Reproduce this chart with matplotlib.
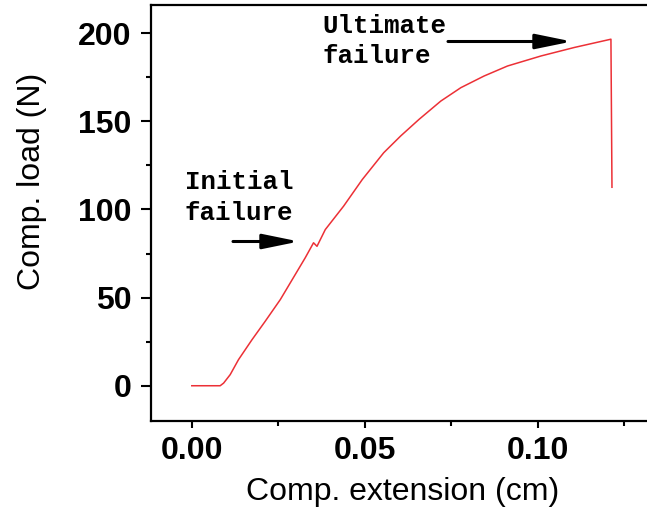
import matplotlib
matplotlib.use("Agg")
import matplotlib.pyplot as plt
from matplotlib.ticker import MultipleLocator

# Data
extension_cm = [0.0, 0.0082, 0.0092, 0.0111, 0.0135, 0.0174, 0.0212, 0.0256,
                0.0328, 0.0352, 0.0362, 0.0386, 0.0439, 0.0493, 0.0555, 0.0604,
                0.0657, 0.0720, 0.0778, 0.0845, 0.0913, 0.1010, 0.1106, 0.1212,
                0.1215]
load_N = [0.0, 0.0, 1.5, 6.3, 14.8, 26.1, 36.5, 48.9,
          72.6, 81.1, 79.1, 88.6, 101.9, 117.0, 132.2, 141.7,
          151.1, 161.5, 169.1, 175.7, 181.4, 187.1, 191.9, 196.6,
          112.6]

x_ticks = [0.00, 0.05, 0.10]
x_ticklabels = ["0.00", "0.05", "0.10"]
y_ticks = [0, 50, 100, 150, 200]

W, H = 647, 511
fig = plt.figure(figsize=(W / 100, H / 100), dpi=100)
ax_w = 1 - 151 / W + 0.01
ax = fig.add_axes([151 / W, 1 - 421 / H, ax_w, (421 - 5) / H])

ax.plot(extension_cm, load_N, color="#ec3036", lw=1.1)

ax.set_xlim(-0.0118, 0.1335)
ax.set_ylim(-20, 216)

ax.set_xticks(x_ticks)
ax.set_xticklabels(x_ticklabels)
ax.set_yticks(y_ticks)
ax.xaxis.set_minor_locator(MultipleLocator(0.025))
ax.yaxis.set_minor_locator(MultipleLocator(25))

for lbl in ax.get_xticklabels() + ax.get_yticklabels():
    lbl.set_fontfamily("Liberation Sans")
    lbl.set_fontweight("bold")
    lbl.set_fontsize(23)

ax.tick_params(axis="y", which="major", direction="out", length=7, width=1.5, pad=7)
ax.tick_params(axis="x", which="major", direction="out", length=5, width=1.5, pad=6)
ax.tick_params(which="minor", direction="out", length=3.5, width=1.5)
ax.tick_params(top=False, right=False)

for s in ["left", "bottom", "top"]:
    ax.spines[s].set_linewidth(1.6)
ax.spines["right"].set_visible(False)

ax.set_xlabel("Comp. extension (cm)", fontfamily="Liberation Sans", fontsize=23, labelpad=8)
ax.set_ylabel("Comp. load (N)", fontfamily="Liberation Sans", fontsize=23)
ax.yaxis.set_label_coords((47 - 151) / (ax_w * W), (421 - 181) / 416)

mono = dict(fontfamily="Liberation Mono", fontweight="bold", fontsize=18.5,
            ha="left", va="baseline")
def px(x, y):
    return x / W, 1 - y / H
fig.text(*px(322, 33), "Ultimate", **mono)
fig.text(*px(322, 63), "failure", **mono)
fig.text(*px(185, 189), "Initial", **mono)
fig.text(*px(185, 220), "failure", **mono)

arrow = dict(arrowstyle="-|>,head_length=2.2,head_width=0.45", color="black",
             lw=2.2, shrinkA=0, shrinkB=0)
ax.annotate("", xy=(572, H - 41.5), xytext=(448, H - 41.5),
            xycoords="figure pixels", textcoords="figure pixels", arrowprops=arrow)
ax.annotate("", xy=(299, H - 241.5), xytext=(233, H - 241.5),
            xycoords="figure pixels", textcoords="figure pixels", arrowprops=arrow)

fig.savefig("out.png", dpi=100)
